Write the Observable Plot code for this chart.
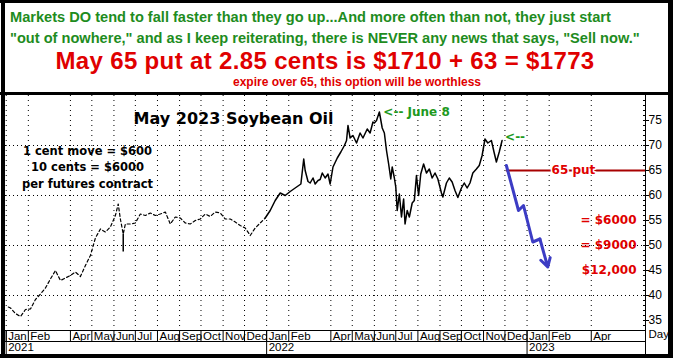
<!DOCTYPE html>
<html><head><meta charset="utf-8">
<script src="https://cdn.jsdelivr.net/npm/d3@7"></script>
<script src="https://cdn.jsdelivr.net/npm/@observablehq/plot@0.6"></script>
<style>
body{margin:0;background:#fff;}
#wrap{position:relative;width:673px;height:358px;overflow:hidden;background:#fff;font-family:"Liberation Sans",Arial,sans-serif;}
.b{position:absolute;background:#000;}
.h{position:absolute;white-space:nowrap;font-weight:bold;line-height:1.15;}
#chart{position:absolute;left:0;top:95px;}
</style></head><body>
<div id="wrap">
  <div class="h" style="left:10px;top:9px;font-size:14.6px;color:#1e8c1e">Markets DO tend to fall faster than they go up...And more often than not, they just start</div>
  <div class="h" style="left:10px;top:30px;font-size:14.6px;color:#1e8c1e">"out of nowhere," and as I keep reiterating, there is NEVER any news that says, "Sell now."</div>
  <div class="h" style="left:0;width:650px;text-align:center;top:49px;font-size:24px;letter-spacing:0.35px;line-height:1;color:#e00000">May 65 put at 2.85 cents is $1710 + 63 = $1773</div>
  <div class="h" style="left:57px;width:600px;text-align:center;top:76px;font-size:12px;line-height:1;color:#e00000">expire over 65, this option will be worthless</div>
  <div id="chart"></div>
  <div class="b" style="left:0;top:0;width:673px;height:3px"></div>
  <div class="b" style="left:1px;top:0;width:4px;height:358px"></div>
  <div class="b" style="left:668px;top:0;width:5px;height:358px"></div>
  <div class="b" style="left:0;top:354px;width:673px;height:4px"></div>
  <div class="b" style="left:0;top:92px;width:673px;height:3px"></div>
  <div class="b" style="left:5px;top:330px;width:640px;height:1px"></div>
  <div class="b" style="left:5px;top:341px;width:640px;height:1px"></div>
  <div class="b" style="left:645px;top:95px;width:1px;height:259px"></div>
</div>
<script>
// ---- data ----
const thinDates = ["2021-01-04","2021-01-07","2021-01-14","2021-01-21","2021-01-28","2021-02-04","2021-02-11","2021-02-18","2021-02-25","2021-03-04","2021-03-11","2021-03-18","2021-03-25","2021-04-01","2021-04-08","2021-04-15","2021-04-22","2021-04-29","2021-05-06","2021-05-13","2021-05-20","2021-05-27","2021-06-03","2021-06-07","2021-06-10","2021-06-14","2021-06-17","2021-06-24","2021-07-01","2021-07-08","2021-07-15","2021-07-22","2021-07-29","2021-08-05","2021-08-12","2021-08-19","2021-08-26","2021-09-02","2021-09-09","2021-09-16","2021-09-23","2021-09-30","2021-10-07","2021-10-14","2021-10-21","2021-10-28","2021-11-04","2021-11-11","2021-11-18","2021-11-25","2021-12-02","2021-12-09","2021-12-16","2021-12-23","2021-12-30"];
const thinPrices = [37.7,37.5,36.4,35.8,37.2,37.3,39.2,40.3,41.5,43.3,45.0,43.0,43.5,44.0,44.7,43.8,46.0,48.0,51.5,53.3,52.7,53.7,56.0,58.3,55.3,52.3,54.3,54.3,54.5,56.3,56.0,56.5,56.0,56.3,56.7,54.3,55.7,55.5,54.5,54.3,55.0,55.3,56.3,55.8,56.7,56.5,55.3,55.3,54.7,54.0,53.5,52.0,53.5,54.5,55.5];
const spikeDates = ["2021-06-14"];
const spikeLow = [48.7];
const spikeHigh = [52.3];

const activeDates = ["2021-12-30","2022-01-06","2022-01-13","2022-01-20","2022-01-27","2022-02-03","2022-02-10","2022-02-18","2022-02-22","2022-02-24","2022-02-28","2022-03-03","2022-03-07","2022-03-10","2022-03-14","2022-03-17","2022-03-20","2022-03-24","2022-03-28","2022-03-31","2022-04-04","2022-04-10","2022-04-15","2022-04-20","2022-04-23","2022-04-25","2022-04-28","2022-05-02","2022-05-07","2022-05-12","2022-05-16","2022-05-22","2022-05-26","2022-05-30","2022-06-01","2022-06-04","2022-06-08","2022-06-12","2022-06-15","2022-06-18","2022-06-21","2022-06-24","2022-06-26","2022-06-29","2022-07-01","2022-07-03","2022-07-06","2022-07-09","2022-07-12","2022-07-14","2022-07-17","2022-07-20","2022-07-24","2022-07-27","2022-07-30","2022-08-02","2022-08-05","2022-08-09","2022-08-13","2022-08-17","2022-08-21","2022-08-25","2022-08-29","2022-09-03","2022-09-05","2022-09-10","2022-09-14","2022-09-18","2022-09-22","2022-09-26","2022-10-01","2022-10-05","2022-10-09","2022-10-13","2022-10-17","2022-10-22","2022-10-26","2022-10-30","2022-11-03","2022-11-07","2022-11-12","2022-11-16","2022-11-19","2022-11-23","2022-11-27"];
const activePrices = [55.5,57.0,59.0,60.5,60.0,60.8,61.5,62.3,67.3,65.0,62.8,62.5,63.5,62.3,63.0,63.2,64.5,63.5,64.3,62.3,65.7,67.5,68.7,70.0,71.0,74.0,71.5,72.0,70.5,72.5,71.5,73.3,72.5,74.7,74.5,75.0,76.7,73.5,72.5,69.0,66.3,63.3,65.7,63.5,61.7,57.0,60.3,55.7,59.3,54.3,57.0,55.7,58.5,59.0,64.0,60.0,64.3,66.3,64.5,65.3,63.5,64.5,63.3,60.5,59.7,62.5,63.5,62.7,61.0,59.6,61.5,62.5,61.5,62.5,64.5,65.3,66.0,68.0,71.3,70.5,71.0,68.5,66.7,68.7,71.0];

const projDates = ["2022-12-03","2022-12-20","2022-12-27","2023-01-09","2023-01-19","2023-01-30"];
const projPrices = [66,57,58,50.7,51.3,45.7];

const putStrike = 65;
const putStart = "2022-12-03";
const putLabelDate = "2023-03-07";
const putLabel = "65 put";

const rightLabels = ["= $6000","= $9000","$12,000"];
const rightLevels = [55,50,45];

const peakDate = "2022-06-08";
const peakPrice = 76.7;

const chartTitle = "May 2023 Soybean Oil";
const infoText = "1 cent move = $600\n10 cents = $6000\nper futures contract";

const monthTicks = ["2021-01-01","2021-02-01","2021-04-01","2021-05-01","2021-06-01","2021-07-01","2021-08-01","2021-09-01","2021-10-01","2021-11-01","2021-12-01","2022-01-01","2022-02-01","2022-04-01","2022-05-01","2022-06-01","2022-07-01","2022-08-01","2022-09-01","2022-10-01","2022-11-01","2022-12-01","2023-01-01","2023-02-01","2023-04-01"];
const yearTicks = ["2021-01-01","2022-01-01","2023-01-01"];
const yTicks = [35,40,45,50,55,60,65,70,75];
const yGrid = [40,50,60,70];
const xDomain = ["2020-12-31","2023-06-16"];
const yDomain = [33,80];

// ---- build ----
const P = d => new Date(d + "T00:00:00Z");
const thin = thinDates.map((d,i)=>({date:P(d), v:thinPrices[i]}));
const active = activeDates.map((d,i)=>({date:P(d), v:activePrices[i]}));
const spikes = spikeDates.map((d,i)=>({date:P(d), lo:spikeLow[i], hi:spikeHigh[i]}));
const proj = projDates.map((d,i)=>({date:P(d), v:projPrices[i]}));
const n = proj.length;
const arrowSeg = [{x1:proj[n-2].date, y1:proj[n-2].v, x2:proj[n-1].date, y2:proj[n-1].v}];
const mTicks = monthTicks.map(P), yrTicks = yearTicks.map(P);
const yMinor = d3.range(yDomain[0]+1, yDomain[1]).filter(v => v % 5 !== 0);
const fmtM = d3.utcFormat("%b"), fmtY = d3.utcFormat("%Y");
const red = "#e00000", green = "#1e9a1e";

const chart = Plot.plot({
  width: 668, height: 259,
  marginLeft: 5, marginRight: 23, marginTop: 0, marginBottom: 24,
  style: {fontFamily: "'Liberation Sans', Arial, sans-serif", fontSize: "12px", background: "white", color: "black", overflow: "visible"},
  x: {type: "utc", domain: xDomain.map(P), axis: null},
  y: {domain: yDomain, axis: null},
  marks: [
    Plot.gridX(mTicks, {stroke: "black", strokeOpacity: 1, strokeDasharray: "1,4"}),
    Plot.gridY(yGrid, {stroke: "black", strokeOpacity: 1, strokeDasharray: "1,3"}),
    Plot.axisX(mTicks, {anchor: "bottom", tickSize: 11, fill: "none", stroke: "black"}),
    Plot.axisX(yrTicks, {anchor: "bottom", tickSize: 24, fill: "none", stroke: "black"}),
    Plot.axisX(mTicks, {anchor: "bottom", tickSize: 0, tickPadding: 1, textAnchor: "start", dx: 2, tickFormat: d => fmtM(d), fontSize: 11.5, fill: "black"}),
    Plot.axisX(yrTicks, {anchor: "bottom", tickSize: 0, tickPadding: 12.5, textAnchor: "start", dx: 2, tickFormat: d => fmtY(d), fontSize: 11.5, fill: "black"}),
    Plot.axisY(yTicks, {anchor: "right", tickSize: 6, insetRight: 3, fill: "none", stroke: "black"}),
    Plot.axisY(yMinor, {anchor: "right", tickSize: 3, insetRight: 3, fill: "none", stroke: "black"}),
    Plot.axisY(yTicks, {anchor: "right", tickSize: 0, tickPadding: 3, fontSize: 12, fill: "black"}),
    Plot.text(["Day"], {frameAnchor: "bottom-right", dx: 3, dy: 7, textAnchor: "start", text: d => d, fontSize: 11.5, fill: "black"}),
    // price
    Plot.line(thin, {x: "date", y: "v", stroke: "black", strokeWidth: 1.2, strokeDasharray: "3,2.5"}),
    Plot.ruleX(spikes, {x: "date", y1: "lo", y2: "hi", stroke: "black", strokeWidth: 1.5}),
    Plot.line(active, {x: "date", y: "v", stroke: "black", strokeWidth: 1.5}),
    // put line
    Plot.ruleY([putStrike], {x1: P(putStart), x2: P(xDomain[1]), stroke: "#a80000", strokeWidth: 2}),
    Plot.text([putLabel], {x: P(putLabelDate), y: putStrike, text: d => d, fill: red, stroke: "white", strokeWidth: 3, fontFamily: "DejaVu Sans", fontWeight: "bold", fontSize: 12}),
    // projection
    Plot.line(proj.slice(0, n-1), {x: "date", y: "v", stroke: "#3c3cc4", strokeWidth: 3, strokeLinejoin: "round"}),
    Plot.arrow(arrowSeg, {x1: "x1", y1: "y1", x2: "x2", y2: "y2", stroke: "#3c3cc4", strokeWidth: 3, headLength: 11}),
    Plot.text(rightLabels, {frameAnchor: "right", dx: -9, y: (d,i) => rightLevels[i], text: d => d, textAnchor: "end", fill: red, fontFamily: "DejaVu Sans", fontWeight: "bold", fontSize: 12}),
    // annotations
    Plot.text(["<-- June 8"], {x: P(peakDate), y: peakPrice, dx: 4, textAnchor: "start", text: d => d, fill: green, fontFamily: "DejaVu Sans", fontWeight: "bold", fontSize: 12}),
    Plot.text(["<--"], {x: active[active.length-1].date, y: active[active.length-1].v, dx: 3, dy: -3, textAnchor: "start", text: d => d, fill: green, fontFamily: "DejaVu Sans", fontWeight: "bold", fontSize: 12}),
    Plot.text([chartTitle], {frameAnchor: "top-left", dx: 228, dy: 17, textAnchor: "middle", text: d => d, fill: "black", fontFamily: "DejaVu Sans", fontWeight: "bold", fontSize: 16}),
    Plot.text([infoText], {frameAnchor: "top-left", dx: 82, dy: 48, lineAnchor: "top", textAnchor: "middle", lineHeight: 1.42, text: d => d, fill: "black", fontFamily: "DejaVu Sans", fontWeight: "bold", fontSize: 11.5})
  ]
});
document.getElementById("chart").appendChild(chart);
</script>
</body></html>
